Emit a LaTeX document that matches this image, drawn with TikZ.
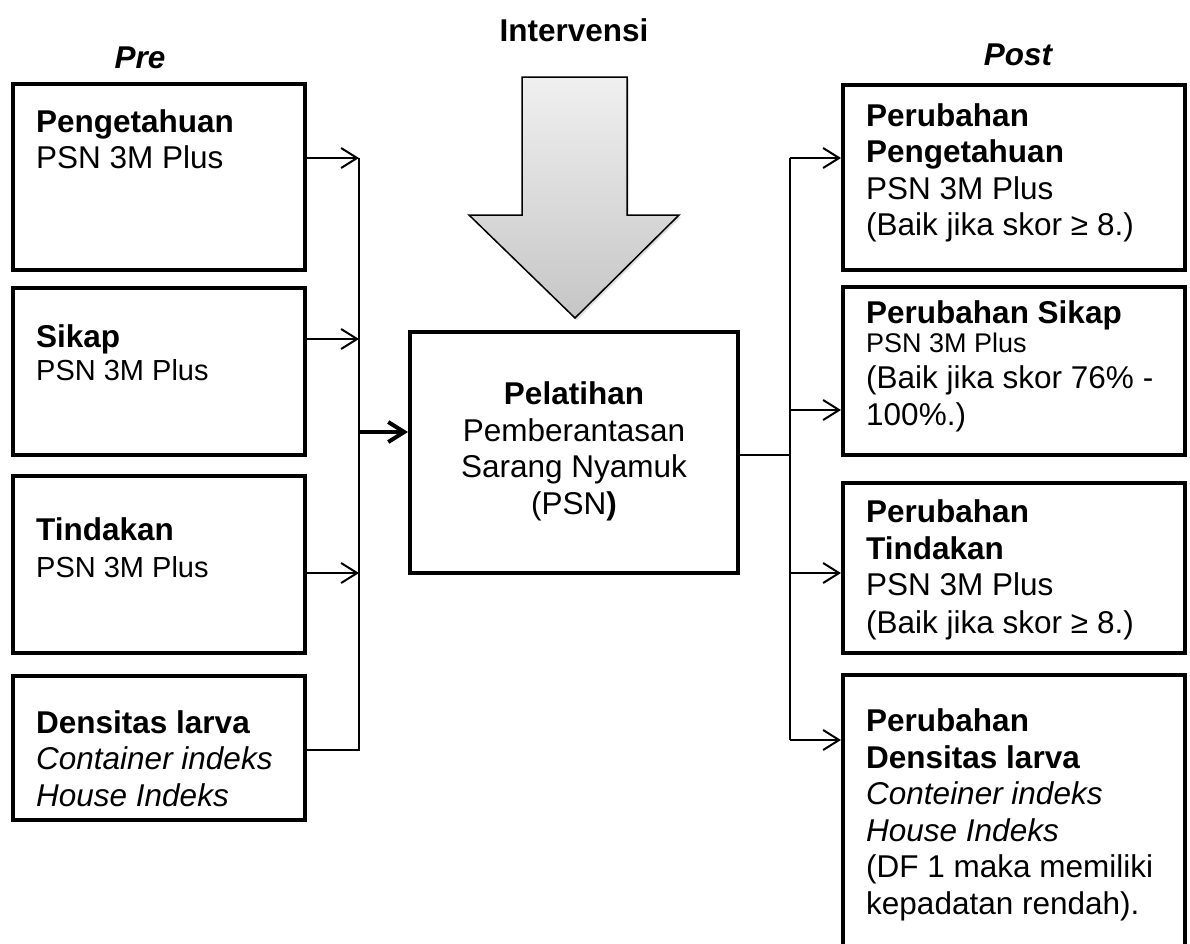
\documentclass[tikz,border=0pt]{standalone}
\usepackage{fontspec}
\setmainfont{Liberation Sans}
\usetikzlibrary{arrows.meta,shadows}

\begin{document}
\begin{tikzpicture}[x=1pt,y=-1pt,
	box/.style={draw=black, line width=4pt, rectangle, inner sep=0pt},
	txt/.style={anchor=base west, align=left, inner sep=0pt, font=\fontsize{31.5}{36.5}\selectfont},
	head/.style={inner sep=0pt, anchor=base, font=\fontsize{31.5}{36.5}\selectfont\bfseries},
	link/.style={line width=2pt},
	arr/.style={link, -{Straight Barb[length=16pt,width=20pt]}}]
	% Parameters
	\def\lbus{359}
	\def\rbus{790}
	\def\lx{36}
	\def\rx{866}
	
	\useasboundingbox (0,0) rectangle (1190,943);
	\clip (0,0) rectangle (1190,943);
	
	%titles
	\node[head] (interv) at (574,41) {Intervensi};
	\node[head, font=\fontsize{31.5}{36.5}\selectfont\bfseries\itshape] (pre) at (140,68) {Pre};
	\node[head, font=\fontsize{31.5}{36.5}\selectfont\bfseries\itshape] (post) at (1018,65) {Post};
	
	%big arrow
	\filldraw[draw=black, line width=1.5pt, top color=gray!12, bottom color=gray!45,
	drop shadow={opacity=0.25, shadow xshift=2pt, shadow yshift=-2pt}]
	(522,77) -- (627,77) -- (627,215) -- (679,215) -- (575,318) -- (469,215) -- (522,215) -- cycle;
	
	%blocks
	\node[box, minimum width=292pt, minimum height=186pt] (pre1) at (159,177) {};
	\node[box, minimum width=292pt, minimum height=167pt] (pre2) at (159,371.5) {};
	\node[box, minimum width=292pt, minimum height=177pt] (pre3) at (159,564.5) {};
	\node[box, minimum width=292pt, minimum height=144pt] (pre4) at (159,748) {};
	\node[box, minimum width=328pt, minimum height=241pt] (pel) at (574,452.5) {};
	\node[box, minimum width=342pt, minimum height=185pt] (post1) at (1014,177.5) {};
	\node[box, minimum width=342pt, minimum height=168pt] (post2) at (1014,371) {};
	\node[box, minimum width=342pt, minimum height=170pt] (post3) at (1014,568) {};
	\node[box, minimum width=342pt, minimum height=305pt] (post4) at (1014,827.5) {};
	
	%texts (anchored at the baseline of the last line)
	\node[txt] (tpre1) at (\lx,168.5) {\textbf{Pengetahuan}\\PSN 3M Plus};
	\node[txt] (tpre2) at (\lx,380) {\textbf{Sikap}\\[-4pt]{\fontsize{29}{33}\selectfont PSN 3M Plus}};
	\node[txt] (tpre3) at (\lx,577) {\textbf{Tindakan}\\{\fontsize{29}{33}\selectfont PSN 3M Plus}};
	\node[txt] (tpre4) at (\lx,806) {\textbf{Densitas larva}\\\textit{Container indeks}\\\textit{House Indeks}};
	\node[txt, anchor=base, align=center] (tpel) at (574,514) {\textbf{Pelatihan}\\Pemberantasan\\Sarang Nyamuk\\(PSN\textbf{)}};
	\node[txt] (tpost1) at (\rx,235.5) {\textbf{Perubahan}\\\textbf{Pengetahuan}\\PSN 3M Plus\\(Baik jika skor ≥ 8.)};
	\node[txt] (tpost2) at (\rx,425) {\textbf{Perubahan Sikap}\\[-8pt]{\fontsize{27}{31}\selectfont PSN 3M Plus}\\(Baik jika skor 76\% -\\100\%.)};
	\node[txt] (tpost3) at (\rx,633) {\textbf{Perubahan}\\\textbf{Tindakan}\\PSN 3M Plus\\[1pt](Baik jika skor ≥ 8.)};
	\node[txt] (tpost4) at (\rx,914) {\textbf{Perubahan}\\\textbf{Densitas larva}\\\textit{Conteiner indeks}\\\textit{House Indeks}\\(DF 1 maka memiliki\\kepadatan rendah).};
	
	%bus points
	\coordinate (lbus1) at (\lbus,158);
	\coordinate (lbus2) at (\lbus,339);
	\coordinate (lbus3) at (\lbus,573);
	\coordinate (lbus4) at (\lbus,750);
	\coordinate (lbusm) at (\lbus,432);
	\coordinate (rbus1) at (\rbus,158);
	\coordinate (rbus2) at (\rbus,410);
	\coordinate (rbus3) at (\rbus,573);
	\coordinate (rbus4) at (\rbus,740);
	\coordinate (rbusm) at (\rbus,455);
	
	%nets
	\foreach \i in {1,2,3} {
		\draw[arr] (pre\i.east |- lbus\i) -- (lbus\i);
	}
	\draw[link] (pre4.east |- lbus4) -- (lbus4) -- (lbus1);
	\draw[arr, line width=4pt] (lbusm) -- (pel.west |- lbusm);
	\draw[link] (pel.east |- rbusm) -- (rbusm);
	\draw[link] (rbus1) -- (rbus4);
	\foreach \i in {1,...,4} {
		\draw[arr] (rbus\i) -- (post\i.west |- rbus\i);
	}
\end{tikzpicture}
\end{document}
